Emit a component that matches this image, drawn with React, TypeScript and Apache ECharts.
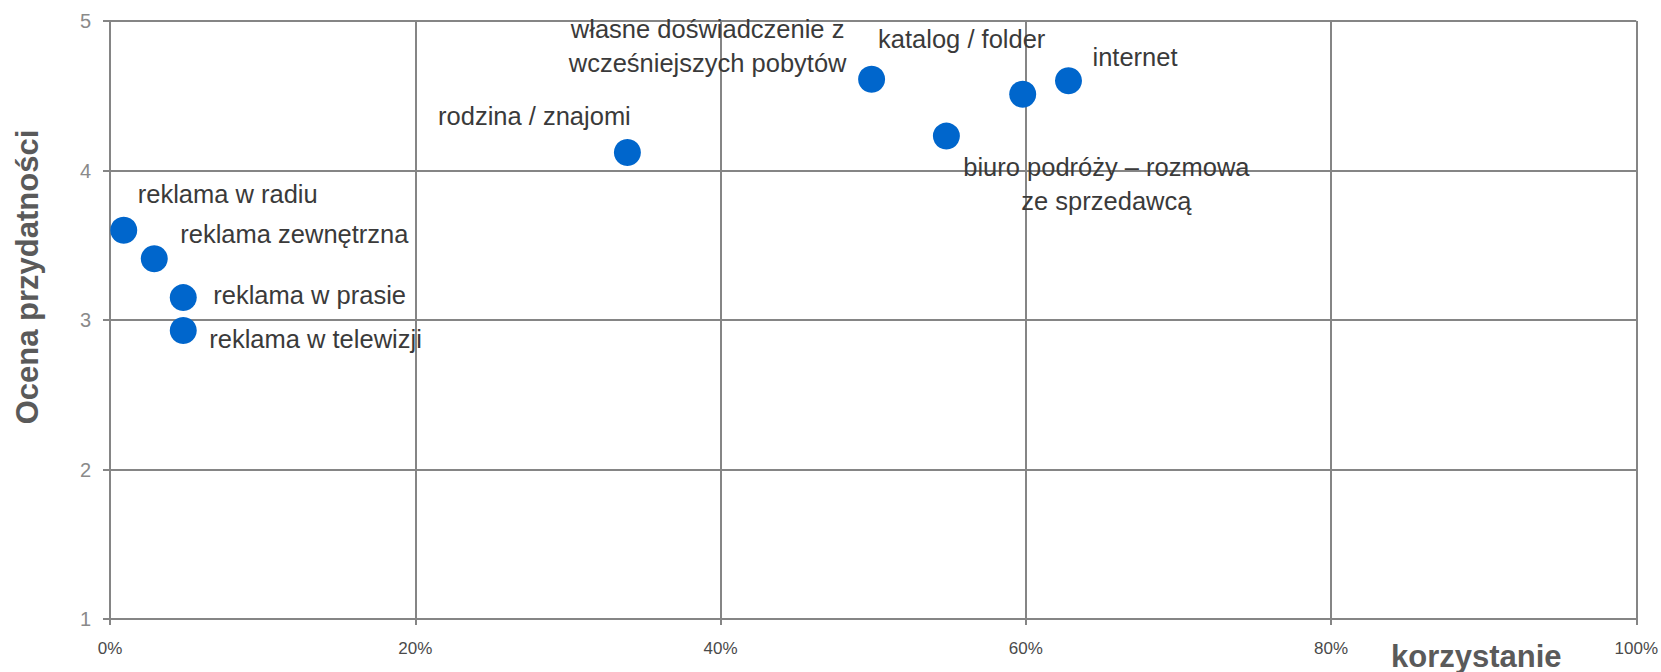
import React, { useEffect, useRef } from "react";
import * as echarts from "echarts";

// Data
const categories: string[] = [
  "reklama w radiu",
  "reklama zewnętrzna",
  "reklama w prasie",
  "reklama w telewizji",
  "rodzina / znajomi",
  "własne doświadczenie z\nwcześniejszych pobytów",
  "biuro podróży – rozmowa\nze sprzedawcą",
  "katalog / folder",
  "internet",
];
const usage: number[] = [0.9, 2.9, 4.8, 4.8, 33.9, 49.9, 54.8, 59.8, 62.8];
const rating: number[] = [3.6, 3.41, 3.15, 2.93, 4.12, 4.61, 4.23, 4.51, 4.6];

const xTicks: number[] = [0, 20, 40, 60, 80, 100];
const yTicks: number[] = [1, 2, 3, 4, 5];

const xTitle = "korzystanie";
const yTitle = "Ocena przydatności";

// Label placement (layout only): [dx, dy, align]
const labelPlacement: [number, number, string][] = [
  [14, -36, "left"],
  [26, -25, "left"],
  [30, -3, "left"],
  [26, 9, "left"],
  [-93, -37, "center"],
  [-164, -33, "center"],
  [160, 48, "center"],
  [-61, -55, "center"],
  [24, -24, "left"],
];

const FONT = "'Liberation Sans', Arial, sans-serif";
const GRID_COLOR = "#858585";

export default function App() {
  const ref = useRef<HTMLDivElement>(null);

  useEffect(() => {
    if (!ref.current) return;
    const chart = echarts.init(ref.current, undefined, { renderer: "svg" });

    const data = categories.map((name, i) => {
      const [dx, dy, align] = labelPlacement[i];
      return {
        name,
        value: [usage[i], rating[i]],
        label: {
          show: true,
          position: "inside",
          offset: [dx, dy],
          align,
          verticalAlign: "middle",
        },
      };
    });

    chart.setOption({
      animation: false,
      backgroundColor: "#ffffff",
      grid: { left: 110, right: 23, top: 21, bottom: 53, containLabel: false },
      xAxis: {
        type: "value",
        min: xTicks[0],
        max: xTicks[xTicks.length - 1],
        interval: 20,
        axisLine: { show: true, lineStyle: { color: GRID_COLOR, width: 2 } },
        axisTick: { show: true, length: 6, lineStyle: { color: GRID_COLOR, width: 2 } },
        splitLine: { show: true, lineStyle: { color: GRID_COLOR, width: 2 } },
        axisLabel: {
          margin: 21,
          fontSize: 17,
          color: "#4a4a4a",
          fontFamily: FONT,
          formatter: (v: number) => `${v}%`,
        },
      },
      yAxis: {
        type: "value",
        min: yTicks[0],
        max: yTicks[yTicks.length - 1],
        interval: 1,
        axisLine: { show: true, lineStyle: { color: GRID_COLOR, width: 2 } },
        axisTick: { show: true, length: 7, lineStyle: { color: GRID_COLOR, width: 2 } },
        splitLine: { show: true, lineStyle: { color: GRID_COLOR, width: 2 } },
        axisLabel: {
          margin: 19,
          fontSize: 20,
          color: "#8a8a8a",
          fontFamily: FONT,
        },
      },
      graphic: [
        {
          type: "text",
          x: 27,
          y: 277,
          rotation: Math.PI / 2,
          style: {
            text: yTitle,
            fontSize: 31,
            fontWeight: "bold",
            fontFamily: FONT,
            fill: "#5a5a5a",
            textAlign: "center",
            textVerticalAlign: "middle",
          },
        },
        {
          type: "text",
          x: 1391,
          y: 656,
          style: {
            text: xTitle,
            fontSize: 31,
            fontWeight: "bold",
            fontFamily: FONT,
            fill: "#5a5a5a",
            textAlign: "left",
            textVerticalAlign: "middle",
          },
        },
      ],
      series: [
        {
          type: "scatter",
          symbol: "circle",
          symbolSize: 27,
          itemStyle: { color: "#0066CC", opacity: 1 },
          label: {
            show: true,
            formatter: "{b}",
            fontSize: 25.5,
            lineHeight: 34,
            color: "#3a3a3a",
            fontFamily: FONT,
          },
          data,
        },
      ],
    });

    return () => chart.dispose();
  }, []);

  return (
    <div
      ref={ref}
      style={{ position: "fixed", left: 0, top: 0, width: 1661, height: 672 }}
    />
  );
}
